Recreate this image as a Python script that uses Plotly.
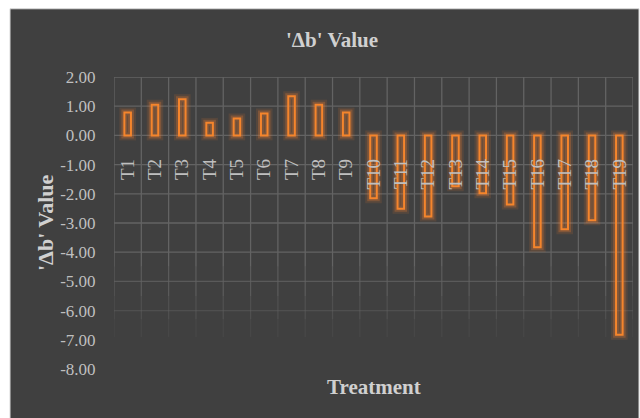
import plotly.graph_objects as go

# Treatment labels and measured colour change (delta b) per treatment
treatments = ["T1", "T2", "T3", "T4", "T5", "T6", "T7", "T8", "T9", "T10",
              "T11", "T12", "T13", "T14", "T15", "T16", "T17", "T18", "T19"]
delta_b = [0.78, 1.05, 1.24, 0.43, 0.58, 0.75, 1.34, 1.05, 0.78, -2.15,
           -2.51, -2.78, -1.74, -1.98, -2.37, -3.83, -3.21, -2.91, -6.83]

y_ticks = [2, 1, 0, -1, -2, -3, -4, -5, -6, -7, -8]
y_tick_text = [f"{v:.2f}" for v in y_ticks]

SERIF = "Liberation Serif, Times New Roman, serif"
PANEL = "#404040"
ORANGE = "#f5852c"
GRID = "#636363"

fig = go.Figure()

# soft outer glow, then the crisp hollow bar outline on top
for w, col in [(10, "rgba(237,125,49,0.13)"), (6, "rgba(237,125,49,0.28)")]:
    fig.add_trace(go.Bar(
        x=treatments, y=delta_b, width=0.24,
        marker=dict(color="rgba(0,0,0,0)", line=dict(color=col, width=w)),
        hoverinfo="skip", showlegend=False,
    ))
# the outline trace lives on the label axis that crosses at zero
fig.add_trace(go.Bar(
    x=treatments, y=delta_b, width=0.24, xaxis="x2",
    marker=dict(color="rgba(0,0,0,0)", line=dict(color=ORANGE, width=2)),
    showlegend=False,
))

# dark panel with a thin light frame
fig.add_shape(type="rect", xref="paper", yref="paper",
              x0=-104 / 519, x1=525 / 519, y0=-60 / 291, y1=1 + 68 / 291,
              fillcolor=PANEL, line=dict(color="#d9d9d9", width=1),
              layer="below")


def grid_alpha(v):
    """Gridlines fade out towards the bottom of the plot area."""
    if v >= -4.5:
        return 1.0
    if v >= -5.5:
        return 0.75
    if v >= -6.3:
        return 0.45
    if v >= -6.9:
        return 0.2
    return 0.0


# horizontal gridlines at every value tick
for v in y_ticks:
    a = grid_alpha(v)
    if a > 0:
        fig.add_shape(type="line", xref="paper", yref="y", x0=0, x1=1,
                      y0=v, y1=v, opacity=a,
                      line=dict(color=GRID, width=1.3), layer="below")

# vertical gridlines on the category boundaries, faded in steps
bands = [(2, -4.5), (-4.5, -5.5), (-5.5, -6.3), (-6.3, -6.9)]
for k in range(len(treatments) + 1):
    for top, bottom in bands:
        fig.add_shape(type="line", xref="x", yref="y",
                      x0=k - 0.5, x1=k - 0.5, y0=top, y1=bottom,
                      opacity=grid_alpha(bottom + 0.01),
                      line=dict(color=GRID, width=1.3), layer="below")

fig.add_annotation(text="<b>Treatment</b>", xref="paper", yref="paper",
                   x=0.5, y=-17.5 / 291, xanchor="center", yanchor="middle",
                   showarrow=False,
                   font=dict(family=SERIF, size=21, color="#d0d0d0"))

fig.add_annotation(text="<b>'Δb' Value</b>", xref="paper", yref="paper",
                   x=-69 / 519, y=0.5, xanchor="center", yanchor="middle",
                   textangle=-90, showarrow=False,
                   font=dict(family=SERIF, size=22, color="#d0d0d0"))

fig.update_layout(
    width=640, height=418,
    margin=dict(l=114, r=7, t=77, b=49),
    paper_bgcolor="white",
    plot_bgcolor="rgba(0,0,0,0)",
    barmode="overlay",
    title=dict(text="<b>'Δb' Value</b>", x=332 / 640, xanchor="center",
               y=1 - 40 / 418, yanchor="middle",
               font=dict(family=SERIF, size=21, color="#d0d0d0")),
    xaxis=dict(
        type="category", categoryarray=treatments, range=[-0.5, 18.5],
        showgrid=False, showline=False, zeroline=False,
        showticklabels=False, ticks="",
    ),
    xaxis2=dict(
        type="category", matches="x", overlaying="x",
        anchor="free", position=0.8, showgrid=False,
        showline=False, zeroline=False,
        ticks="outside", ticklen=15, tickcolor="rgba(0,0,0,0)",
        tickangle=-90,
        tickfont=dict(family=SERIF, size=19, color="#bfbfbf"),
    ),
    yaxis=dict(
        range=[-8, 2], tickvals=y_ticks, ticktext=y_tick_text,
        showgrid=False, zeroline=False, showline=False,
        ticks="outside", ticklen=14, tickcolor="rgba(0,0,0,0)",
        tickfont=dict(family=SERIF, size=17, color="#bfbfbf"),
    ),
)

fig.write_html("out.html")
